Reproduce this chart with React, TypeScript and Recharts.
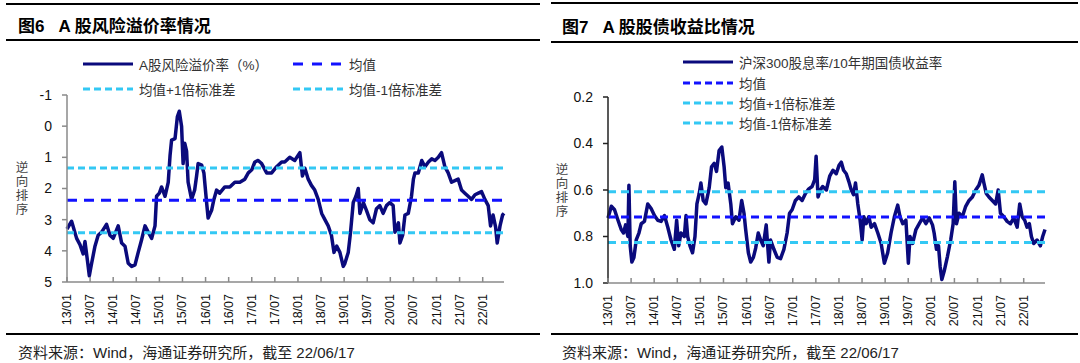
import React from 'react';
import { LineChart, Line, XAxis, YAxis, ReferenceLine } from 'recharts';

// half-year tick labels shared by both panels
const xTickLabels = [
  '13/01', '13/07', '14/01', '14/07', '15/01', '15/07', '16/01', '16/07', '17/01', '17/07',
  '18/01', '18/07', '19/01', '19/07', '20/01', '20/07', '21/01', '21/07', '22/01',
];

// 图6 A股风险溢价率 (%)
const erpDates = [
  '13/01/01', '13/02/07', '13/03/16', '13/04/12', '13/05/07', '13/05/21', '13/06/10', '13/06/25', '13/07/13', '13/08/09',
  '13/09/04', '13/10/01', '13/11/09', '13/12/06', '14/01/01', '14/02/10', '14/03/07', '14/04/03', '14/04/28', '14/05/25',
  '14/06/21', '14/07/16', '14/08/12', '14/09/09', '14/10/04', '14/11/01', '14/11/27', '14/12/09', '15/01/01', '15/01/18',
  '15/02/15', '15/03/10', '15/03/24', '15/04/06', '15/05/03', '15/05/21', '15/06/06', '15/06/24', '15/07/06', '15/07/19',
  '15/08/03', '15/08/15', '15/09/12', '15/10/06', '15/10/21', '15/11/03', '15/12/01', '15/12/18', '16/01/09', '16/01/21',
  '16/02/18', '16/03/06', '16/03/27', '16/04/21', '16/06/01', '16/07/10', '16/08/19', '16/09/28', '16/11/07', '16/12/04',
  '17/01/01', '17/01/25', '17/02/21', '17/03/18', '17/04/27', '17/06/06', '17/07/15', '17/08/24', '17/09/18', '17/10/27',
  '17/12/06', '18/01/16', '18/02/06', '18/02/25', '18/03/21', '18/04/16', '18/05/12', '18/06/09', '18/07/06', '18/08/01',
  '18/08/27', '18/09/22', '18/10/12', '18/11/03', '18/11/28', '18/12/24', '19/01/07', '19/02/03', '19/02/21', '19/03/12',
  '19/04/03', '19/04/21', '19/05/04', '19/06/01', '19/06/25', '19/07/21', '19/08/17', '19/09/13', '19/10/09', '19/11/05',
  '19/12/01', '19/12/27', '20/01/23', '20/02/07', '20/03/04', '20/03/16', '20/04/07', '20/04/25', '20/05/21', '20/06/16',
  '20/07/01', '20/07/13', '20/08/09', '20/09/06', '20/10/01', '20/10/28', '20/11/24', '20/12/19', '21/01/15', '21/02/10',
  '21/03/06', '21/04/02', '21/04/28', '21/05/24', '21/06/20', '21/07/16', '21/08/12', '21/09/08', '21/10/04', '21/11/01',
  '21/11/27', '21/12/22', '22/01/18', '22/02/14', '22/03/02', '22/03/22', '22/04/12', '22/04/24', '22/05/16', '22/06/06',
  '22/06/17',
];
const erpValues = [
  3.3, 3.05, 3.6, 3.8, 4.1, 3.7, 4.3, 4.8, 4.4, 3.85,
  3.5, 3.4, 3.15, 3.5, 3.6, 3.2, 3.75, 3.85, 4.4, 4.5,
  4.45, 4.05, 3.65, 3.2, 3.4, 3.6, 3.2, 2.25, 2.15, 1.95,
  2.25, 1.8, 0.95, 0.45, 0.4, -0.3, -0.48, 0, 1.2, 0.55,
  0.8, 1.8, 2.35, 2.05, 1.6, 1.2, 1.25, 1.5, 2.45, 2.95,
  2.7, 2.35, 2.05, 2.15, 1.95, 1.95, 1.8, 1.8, 1.7, 1.5,
  1.4, 1.15, 1.1, 1.2, 1.5, 1.5, 1.3, 1.15, 1.15, 1.0,
  1.1, 0.85, 1.6, 1.35, 1.7, 1.9, 2.05, 2.35, 2.8, 3.0,
  3.2, 3.5, 4.05, 3.85, 4.05, 4.5, 4.4, 4.05, 3.4, 2.45,
  2.25, 2.0, 2.8, 2.45, 2.7, 3.0, 3.1, 2.65, 2.55, 2.8,
  2.55, 2.45, 2.55, 3.4, 3.1, 3.75, 3.5, 2.85, 2.8, 2.25,
  1.7, 1.5, 1.5, 1.1, 1.3, 1.15, 1.05, 1.1, 1.0, 0.85,
  1.3, 1.5, 1.8, 1.75, 1.7, 2.05, 2.15, 2.25, 2.35, 2.2,
  2.15, 2.1, 2.35, 2.55, 3.2, 2.85, 3.25, 3.75, 3.2, 2.85,
  2.8,
];
const erpTicks = [-1, 0, 1, 2, 3, 4, 5];
const erpMean = 2.38;
const erpPlus1 = 3.42;
const erpMinus1 = 1.34;

// 图7 沪深300股息率/10年期国债收益率
const ratioDates = [
  '13/01/01', '13/01/27', '13/02/22', '13/03/19', '13/04/14', '13/05/02', '13/05/18', '13/06/06', '13/06/14', '13/06/24',
  '13/07/07', '13/07/23', '13/08/11', '13/09/02', '13/09/20', '13/10/15', '13/11/11', '13/12/07', '14/01/03', '14/01/29',
  '14/02/25', '14/03/21', '14/04/17', '14/05/12', '14/06/08', '14/06/26', '14/07/12', '14/07/30', '14/08/26', '14/09/09',
  '14/09/22', '14/10/10', '14/10/30', '14/11/19', '14/12/04', '14/12/22', '15/01/05', '15/01/23', '15/02/14', '15/03/10',
  '15/03/28', '15/04/19', '15/05/07', '15/05/27', '15/06/18', '15/07/06', '15/07/19', '15/08/07', '15/08/28', '15/09/11',
  '15/10/07', '15/11/02', '15/11/23', '15/12/11', '15/12/24', '16/01/15', '16/02/03', '16/02/24', '16/03/12', '16/04/02',
  '16/04/21', '16/05/11', '16/06/04', '16/06/25', '16/07/08', '16/08/04', '16/08/30', '16/09/26', '16/10/22', '16/11/17',
  '16/12/06', '16/12/26', '17/01/22', '17/02/18', '17/03/14', '17/04/10', '17/05/06', '17/06/02', '17/06/22', '17/07/03',
  '17/07/18', '17/08/06', '17/08/24', '17/09/23', '17/10/19', '17/11/14', '17/12/10', '18/01/01', '18/01/19', '18/02/07',
  '18/02/28', '18/03/19', '18/04/07', '18/04/25', '18/05/10', '18/05/28', '18/06/16', '18/07/02', '18/07/15', '18/08/03',
  '18/08/24', '18/09/12', '18/10/08', '18/11/04', '18/11/30', '18/12/25', '19/01/21', '19/02/17', '19/03/13', '19/04/09',
  '19/04/27', '19/05/18', '19/06/13', '19/07/02', '19/07/15', '19/08/05', '19/09/01', '19/09/27', '19/10/23', '19/11/19',
  '19/12/15', '20/01/10', '20/01/23', '20/02/11', '20/02/27', '20/03/10', '20/03/23', '20/04/11', '20/05/07', '20/06/02',
  '20/06/21', '20/07/04', '20/07/17', '20/08/07', '20/09/03', '20/09/29', '20/10/25', '20/11/21', '20/12/17', '21/01/12',
  '21/02/08', '21/02/21', '21/03/09', '21/03/30', '21/04/26', '21/05/22', '21/06/12', '21/06/30', '21/07/26', '21/08/22',
  '21/09/18', '21/10/14', '21/11/10', '21/11/30', '21/12/19', '22/01/09', '22/01/27', '22/02/15', '22/03/01', '22/03/19',
  '22/04/15', '22/05/11', '22/05/29', '22/06/17',
];
const ratioValues = [
  0.72, 0.67, 0.685, 0.73, 0.77, 0.785, 0.75, 0.8, 0.58, 0.84,
  0.91, 0.89, 0.815, 0.785, 0.745, 0.735, 0.66, 0.68, 0.71, 0.73,
  0.735, 0.71, 0.76, 0.815, 0.855, 0.73, 0.84, 0.785, 0.8, 0.71,
  0.8, 0.84, 0.87, 0.8, 0.66, 0.615, 0.57, 0.645, 0.66, 0.59,
  0.5, 0.485, 0.52, 0.43, 0.415, 0.5, 0.59, 0.57, 0.66, 0.745,
  0.715, 0.73, 0.645, 0.7, 0.77, 0.87, 0.91, 0.89, 0.85, 0.785,
  0.815, 0.84, 0.75, 0.91, 0.815, 0.855, 0.89, 0.895, 0.855, 0.785,
  0.7, 0.685, 0.645, 0.63, 0.645, 0.615, 0.595, 0.585, 0.555, 0.455,
  0.63, 0.6, 0.585, 0.6, 0.54, 0.515, 0.53, 0.495, 0.48, 0.515,
  0.53, 0.565, 0.6, 0.62, 0.57, 0.66, 0.73, 0.815, 0.715, 0.745,
  0.715, 0.76, 0.745, 0.785, 0.83, 0.915, 0.87, 0.785, 0.715, 0.665,
  0.715, 0.745, 0.73, 0.915, 0.8, 0.83, 0.77, 0.745, 0.72, 0.745,
  0.72, 0.75, 0.785, 0.855, 0.84, 0.93, 0.985, 0.95, 0.885, 0.815,
  0.745, 0.565, 0.745, 0.7, 0.715, 0.67, 0.645, 0.63, 0.6, 0.58,
  0.535, 0.57, 0.615, 0.63, 0.645, 0.66, 0.6, 0.7, 0.715, 0.735,
  0.745, 0.72, 0.76, 0.66, 0.715, 0.73, 0.76, 0.745, 0.8, 0.83,
  0.815, 0.84, 0.8, 0.77,
];
const ratioTicks = [0.2, 0.4, 0.6, 0.8, 1.0];
const ratioMean = 0.716;
const ratioPlus1 = 0.826;
const ratioMinus1 = 0.607;

const NAVY = '#0a0a7c';
const MEAN_BLUE = '#1212ff';
const STD_CYAN = '#33c8f4';
const AXIS_GRAY = '#8a8a8a';
const FONT = '"Liberation Sans", Arial, "Noto Sans CJK SC", sans-serif';

// months since 2013-01 from 'YY/MM/DD'
const toMonths = (s: string) => {
  const [y, m, d] = s.split('/').map(Number);
  return (y - 13) * 12 + (m - 1) + ((d || 1) - 1) / 30;
};

const xTicks = xTickLabels.map((l) => toMonths(l + '/01'));
const erpData = erpDates.map((d, i) => ({ t: toMonths(d), v: erpValues[i] }));
const ratioData = ratioDates.map((d, i) => ({ t: toMonths(d), v: ratioValues[i] }));

const MonthTick = (props: any) => {
  const { x, y, payload } = props;
  const idx = xTicks.findIndex((t) => Math.abs(t - payload.value) < 0.01);
  const label = idx >= 0 ? xTickLabels[idx] : '';
  return (
    <g>
      <line x1={x} y1={y - 5} x2={x} y2={y} stroke={AXIS_GRAY} strokeWidth={1.5} />
      <text
        x={x}
        y={y + 12}
        transform={`rotate(-90 ${x} ${y + 12})`}
        textAnchor="end"
        dominantBaseline="central"
        fontSize={12.5}
        fontFamily={FONT}
        fill="#111"
      >
        {label}
      </text>
    </g>
  );
};

const LegendSwatch = ({ color, dash, width = 3 }: { color: string; dash?: string; width?: number }) => (
  <svg width={50} height={8} style={{ display: 'block' }}>
    <line x1={0} y1={4} x2={50} y2={4} stroke={color} strokeWidth={width} strokeDasharray={dash} />
  </svg>
);

const LegendRow = ({ x, y, label, color, dash, width }: any) => (
  <div style={{ position: 'absolute', left: x, top: y - 9, height: 18, display: 'flex', alignItems: 'center', whiteSpace: 'nowrap' }}>
    <LegendSwatch color={color} dash={dash} width={width} />
    <span style={{ marginLeft: 6, fontSize: 13.5, color: '#333', fontFamily: FONT }}>{label}</span>
  </div>
);

const Rule = ({ left, width, top }: { left: number; width: number; top: number }) => (
  <div style={{ position: 'absolute', left, top, width, height: 2, background: '#000' }} />
);

const VerticalLabel = ({ x, y, text }: { x: number; y: number; text: string }) => (
  <div style={{ position: 'absolute', left: x, top: y, width: 14, fontSize: 12.5, lineHeight: '14px', color: '#444', fontFamily: FONT, textAlign: 'center' }}>
    {text.split('').map((c, i) => (
      <div key={i}>{c}</div>
    ))}
  </div>
);

const Title = ({ x, y, num, text }: { x: number; y: number; num: string; text: string }) => (
  <div style={{ position: 'absolute', left: x, top: y, fontSize: 17, fontWeight: 'bold', color: '#000', fontFamily: FONT, whiteSpace: 'nowrap' }}>
    <span>{num}</span>
    <span style={{ marginLeft: 14 }}>{text}</span>
  </div>
);

const Source = ({ x, y }: { x: number; y: number }) => (
  <div style={{ position: 'absolute', left: x, top: y, fontSize: 15, color: '#222', fontFamily: FONT, whiteSpace: 'nowrap' }}>
    资料来源：Wind，海通证券研究所，截至 22/06/17
  </div>
);

export default function App() {
  return (
    <div style={{ position: 'absolute', left: 0, top: 0, width: 1080, height: 363, background: '#fff', overflow: 'hidden' }}>
      {/* left panel */}
      <Rule left={6} width={534} top={3} />
      <Title x={18} y={12} num="图6" text="A 股风险溢价率情况" />
      <Rule left={6} width={534} top={39} />
      <div style={{ position: 'absolute', left: 0, top: 0 }}>
        <LineChart width={540} height={363} data={erpData} margin={{ top: 95, right: 36, bottom: 31, left: 27 }}>
          <XAxis
            type="number"
            dataKey="t"
            domain={[0, 'dataMax']}
            ticks={xTicks}
            interval={0}
            tick={<MonthTick />}
            tickLine={false}
            tickSize={0}
            tickMargin={0}
            height={50}
            axisLine={{ stroke: AXIS_GRAY, strokeWidth: 1.5 }}
          />
          <YAxis
            type="number"
            domain={[-1, 5]}
            reversed
            ticks={erpTicks}
            interval={0}
            width={40}
            tickSize={5}
            tickMargin={10}
            tick={{ fontSize: 14, fill: '#111', fontFamily: FONT }}
            tickLine={{ stroke: AXIS_GRAY, strokeWidth: 1.5 }}
            axisLine={{ stroke: AXIS_GRAY, strokeWidth: 1.5 }}
          />
          <Line type="linear" dataKey="v" stroke={NAVY} strokeWidth={3.5} strokeLinejoin="round" dot={false} isAnimationActive={false} />
          <ReferenceLine y={erpMean} stroke={MEAN_BLUE} strokeWidth={3} strokeDasharray="10 7" />
          <ReferenceLine y={erpPlus1} stroke={STD_CYAN} strokeWidth={3} strokeDasharray="7 4" />
          <ReferenceLine y={erpMinus1} stroke={STD_CYAN} strokeWidth={3} strokeDasharray="7 4" />
        </LineChart>
      </div>
      <LegendRow x={83} y={64} label="A股风险溢价率（%）" color={NAVY} />
      <LegendRow x={293} y={64} label="均值" color={MEAN_BLUE} dash="10 9" />
      <LegendRow x={83} y={89} label="均值+1倍标准差" color={STD_CYAN} dash="7 4" />
      <LegendRow x={293} y={89} label="均值-1倍标准差" color={STD_CYAN} dash="7 4" />
      <VerticalLabel x={15} y={161} text="逆向排序" />
      <Rule left={6} width={534} top={333} />
      <Source x={18} y={341} />

      {/* right panel */}
      <Rule left={551} width={527} top={2} />
      <Title x={562} y={13} num="图7" text="A 股股债收益比情况" />
      <Rule left={551} width={527} top={41} />
      <div style={{ position: 'absolute', left: 540, top: 0 }}>
        <LineChart width={540} height={363} data={ratioData} margin={{ top: 97, right: 35, bottom: 30, left: 28 }}>
          <XAxis
            type="number"
            dataKey="t"
            domain={[0, 'dataMax']}
            ticks={xTicks}
            interval={0}
            tick={<MonthTick />}
            tickLine={false}
            tickSize={0}
            tickMargin={0}
            height={50}
            axisLine={{ stroke: AXIS_GRAY, strokeWidth: 1.5 }}
          />
          <YAxis
            type="number"
            domain={[0.2, 1.0]}
            reversed
            ticks={ratioTicks}
            interval={0}
            width={40}
            tickSize={5}
            tickMargin={10}
            tickFormatter={(v: number) => v.toFixed(1)}
            tick={{ fontSize: 14, fill: '#111', fontFamily: FONT }}
            tickLine={{ stroke: '#222', strokeWidth: 1.5 }}
            axisLine={{ stroke: '#222', strokeWidth: 1.5 }}
          />
          <Line type="linear" dataKey="v" stroke={NAVY} strokeWidth={3.5} strokeLinejoin="round" dot={false} isAnimationActive={false} />
          <ReferenceLine y={ratioMean} stroke={MEAN_BLUE} strokeWidth={3} strokeDasharray="8 5" />
          <ReferenceLine y={ratioPlus1} stroke={STD_CYAN} strokeWidth={3} strokeDasharray="8 5" />
          <ReferenceLine y={ratioMinus1} stroke={STD_CYAN} strokeWidth={3} strokeDasharray="8 5" />
        </LineChart>
      </div>
      <LegendRow x={683} y={62} label="沪深300股息率/10年期国债收益率" color={NAVY} />
      <LegendRow x={683} y={83} label="均值" color={MEAN_BLUE} dash="7 4" />
      <LegendRow x={683} y={103} label="均值+1倍标准差" color={STD_CYAN} dash="7 4" />
      <LegendRow x={683} y={123} label="均值-1倍标准差" color={STD_CYAN} dash="7 4" />
      <VerticalLabel x={555} y={163} text="逆向排序" />
      <Rule left={551} width={527} top={333} />
      <Source x={562} y={341} />
    </div>
  );
}
